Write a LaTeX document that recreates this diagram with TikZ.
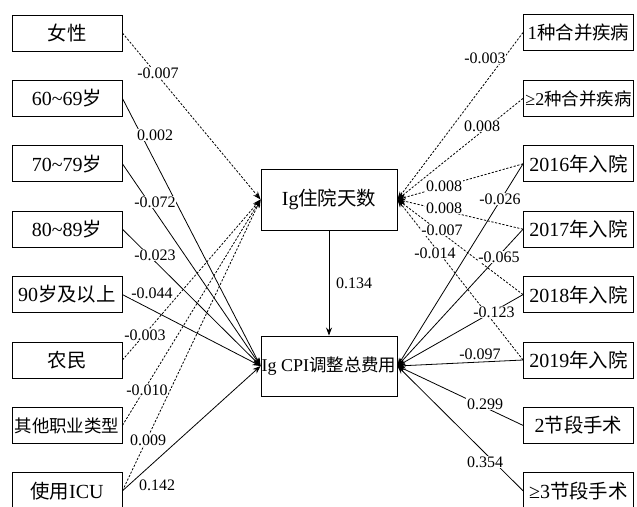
\documentclass[tikz,border=0pt]{standalone}
\usepackage{fontspec}
\setmainfont{Liberation Serif}
\newfontfamily\cjk[Scale=0.97]{Noto Sans CJK SC}
\usetikzlibrary{arrows.meta}
\begin{document}
\begin{tikzpicture}[x=1pt,y=-1pt,
 box/.style={draw,line width=0.9pt,minimum width=110pt,minimum height=36pt,inner sep=0pt,font=\fontsize{20}{22}\selectfont},
 small/.style={font=\fontsize{18}{20}\selectfont},
 cbox/.style={box,minimum width=136pt,minimum height=61pt},
 lab/.style={font=\fontsize{16}{17}\selectfont,inner sep=0.6pt,fill=white},
 sol/.style={line width=0.8pt,-{Stealth[length=8pt,width=6pt]}},
 das/.style={sol,dash pattern=on 2.2pt off 1.6pt},
]
\useasboundingbox (0,0) rectangle (637,506);
% left boxes
\node[box] (L1) at (67,33) {{\cjk 女性}};
\node[box] (L2) at (67,98.4) {60\textasciitilde 69{\cjk 岁}};
\node[box] (L3) at (67,163.8) {70\textasciitilde 79{\cjk 岁}};
\node[box] (L4) at (67,229.2) {80\textasciitilde 89{\cjk 岁}};
\node[box] (L5) at (67,294.6) {90{\cjk 岁及以上}};
\node[box] (L6) at (67,360) {{\cjk 农民}};
\node[box,small] (L7) at (67,425.4) {{\cjk 其他职业类型}};
\node[box] (L8) at (67,490.8) {{\cjk 使用}ICU};
% right boxes
\node[box,font=\fontsize{19}{21}\selectfont] (R1) at (578.5,32.5) {1{\cjk 种合并疾病}};
\node[box,small] (R2) at (578.5,98.4) {≥2{\cjk 种合并疾病}};
\node[box] (R3) at (578.5,163.8) {2016{\cjk 年入院}};
\node[box] (R4) at (578.5,229.2) {2017{\cjk 年入院}};
\node[box] (R5) at (578.5,294.6) {2018{\cjk 年入院}};
\node[box] (R6) at (578.5,360) {2019{\cjk 年入院}};
\node[box] (R7) at (578.5,425.4) {2{\cjk 节段手术}};
\node[box] (R8) at (578.5,490.8) {≥3{\cjk 节段手术}};
% centre boxes
\node[cbox] (T) at (329,199.5) {Ig{\cjk 住院天数}};
\node[cbox,minimum height=60pt,font=\fontsize{18}{20}\selectfont] (B) at (329,366) {Ig CPI{\cjk 调整总费用}};
% connectors
\draw[das] (L1.east) -- (T.west);
\draw[das] (L6.east) -- (T.west);
\draw[das] (L7.east) -- (T.west);
\draw[das] (L8.east) -- (T.west);
\draw[sol] (L2.east) -- (B.west);
\draw[sol] (L3.east) -- (B.west);
\draw[sol] (L4.east) -- (B.west);
\draw[sol] (L5.east) -- (B.west);
\draw[sol] (L8.east) -- (B.west);
\draw[das] (R1.west) -- (T.east);
\draw[das] (R2.west) -- (T.east);
\draw[das] (R3.west) -- (T.east);
\draw[das] (R4.west) -- (T.east);
\draw[das] (R5.west) -- (T.east);
\draw[das] (R6.west) -- (T.east);
\draw[sol] (R3.west) -- (B.east);
\draw[sol] (R4.west) -- (B.east);
\draw[sol] (R5.west) -- (B.east);
\draw[sol] (R6.west) -- (B.east);
\draw[sol] (R7.west) -- (B.east);
\draw[sol] (R8.west) -- (B.east);
\draw[sol] (T.south) -- (B.north);
% labels
\node[lab] (a1) at (158,73) {-0.007};
\node[lab] (a2) at (155,135) {0.002};
\node[lab] (a3) at (155,202) {-0.072};
\node[lab] (a4) at (155,255) {-0.023};
\node[lab] (a5) at (152,293) {-0.044};
\node[lab] (a6) at (145,335) {-0.003};
\node[lab] (a7) at (147,390) {-0.010};
\node[lab] (a8) at (148,440) {0.009};
\node[lab] (a9) at (157,485) {0.142};
\node[lab] (b1) at (485,58) {-0.003};
\node[lab] (b2) at (482,126) {0.008};
\node[lab] (b3) at (444,186) {0.008};
\node[lab] (b4) at (500,199) {-0.026};
\node[lab] (b5) at (444,208) {0.008};
\node[lab] (b6) at (442,230) {-0.007};
\node[lab] (b7) at (435,253) {-0.014};
\node[lab] (b8) at (499,257) {-0.065};
\node[lab] (b9) at (494,312) {-0.123};
\node[lab] (b10) at (480,354) {-0.097};
\node[lab] (b11) at (485,404) {0.299};
\node[lab] (b12) at (485,462) {0.354};
\node[lab] (c1) at (354,283) {0.134};
\end{tikzpicture}
\end{document}
